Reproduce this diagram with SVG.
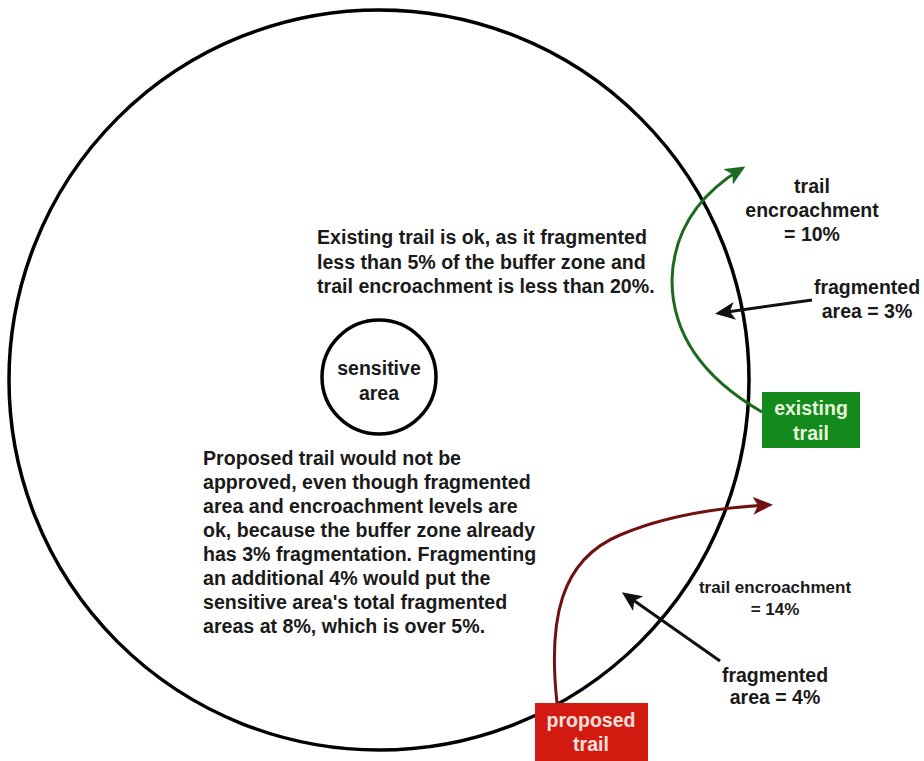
<svg xmlns="http://www.w3.org/2000/svg" width="924" height="761" viewBox="0 0 924 761">
<style>
  text { font-family: "Liberation Sans", Arial, sans-serif; font-weight: bold; fill: #1a1a1a; }
  .lbl { font-size: 19.5px; text-anchor: middle; }
  .sm { font-size: 17px; text-anchor: middle; }
  .para { font-size: 19.6px; }
  .box { font-size: 19.5px; text-anchor: middle; }
  .conn { fill: none; stroke-width: 3; }
</style>
<defs>
  <marker id="ahBlack" markerUnits="userSpaceOnUse" markerWidth="20" markerHeight="18" viewBox="0 0 20 18" refX="15" refY="9" orient="auto">
    <path d="M0,0 L20,9 L0,18 L5,9 z" fill="#111"/>
  </marker>
  <marker id="ahGreen" markerUnits="userSpaceOnUse" markerWidth="20" markerHeight="18" viewBox="0 0 20 18" refX="15" refY="9" orient="auto">
    <path d="M0,0 L20,9 L0,18 L5,9 z" fill="#1b6a1d"/>
  </marker>
  <marker id="ahRed" markerUnits="userSpaceOnUse" markerWidth="20" markerHeight="18" viewBox="0 0 20 18" refX="15" refY="9" orient="auto">
    <path d="M0,0 L20,9 L0,18 L5,9 z" fill="#721010"/>
  </marker>
</defs>

<g id="buffer-zone">
  <circle cx="379" cy="380" r="370" fill="none" stroke="#000" stroke-width="3.5"/>
</g>

<g id="sensitive-area">
  <circle cx="379" cy="377" r="57" fill="#fff" stroke="#000" stroke-width="3.5"/>
  <text class="lbl" x="379" y="375">sensitive</text>
  <text class="lbl" x="379" y="400">area</text>
</g>

<g id="existing-note">
  <text class="para" x="317" y="244">Existing trail is ok, as it fragmented</text>
  <text class="para" x="317" y="269">less than 5% of the buffer zone and</text>
  <text class="para" x="317" y="293">trail encroachment is less than 20%.</text>
</g>

<g id="proposed-note">
  <text class="para" x="203" y="465">Proposed trail would not be</text>
  <text class="para" x="203" y="489">approved, even though fragmented</text>
  <text class="para" x="203" y="513">area and encroachment levels are</text>
  <text class="para" x="203" y="537">ok, because the buffer zone already</text>
  <text class="para" x="203" y="561">has 3% fragmentation. Fragmenting</text>
  <text class="para" x="203" y="585">an additional 4% would put the</text>
  <text class="para" x="203" y="609">sensitive area's total fragmented</text>
  <text class="para" x="203" y="633">areas at 8%, which is over 5%.</text>
</g>

<g id="connectors">
  <path class="conn" stroke="#1b6a1d" d="M 762 412 Q 672 360 672 280 Q 674 210 741 169" marker-end="url(#ahGreen)"/>
  <path class="conn" stroke="#721010" d="M 557 703 C 548 620, 560 560, 620 535 C 660 518, 710 508, 768 505" marker-end="url(#ahRed)"/>
  <path class="conn" stroke="#111" d="M 812 300 L 720 313" marker-end="url(#ahBlack)"/>
  <path class="conn" stroke="#111" d="M 720 661 L 626 595" marker-end="url(#ahBlack)"/>
</g>

<g id="existing-encroachment-label">
  <text class="lbl" x="812" y="193">trail</text>
  <text class="lbl" x="812" y="217">encroachment</text>
  <text class="lbl" x="812" y="241">= 10%</text>
</g>

<g id="existing-fragmented-label">
  <text class="lbl" x="867" y="294">fragmented</text>
  <text class="lbl" x="867" y="318">area = 3%</text>
</g>

<g id="existing-trail">
  <rect x="762" y="392" width="98" height="56" fill="#138a1b"/>
  <text class="box" x="811" y="415" style="fill:#e6f5dc">existing</text>
  <text class="box" x="811" y="440" style="fill:#e6f5dc">trail</text>
</g>

<g id="proposed-encroachment-label">
  <text class="sm" x="775" y="593">trail encroachment</text>
  <text class="sm" x="775" y="615">= 14%</text>
</g>

<g id="proposed-fragmented-label">
  <text class="lbl" x="775" y="682">fragmented</text>
  <text class="lbl" x="775" y="704">area = 4%</text>
</g>

<g id="proposed-trail">
  <rect x="535" y="703" width="113" height="58" fill="#d21a10"/>
  <text class="box" x="591" y="727" style="fill:#f7e1df">proposed</text>
  <text class="box" x="591" y="751" style="fill:#f7e1df">trail</text>
</g>
</svg>
